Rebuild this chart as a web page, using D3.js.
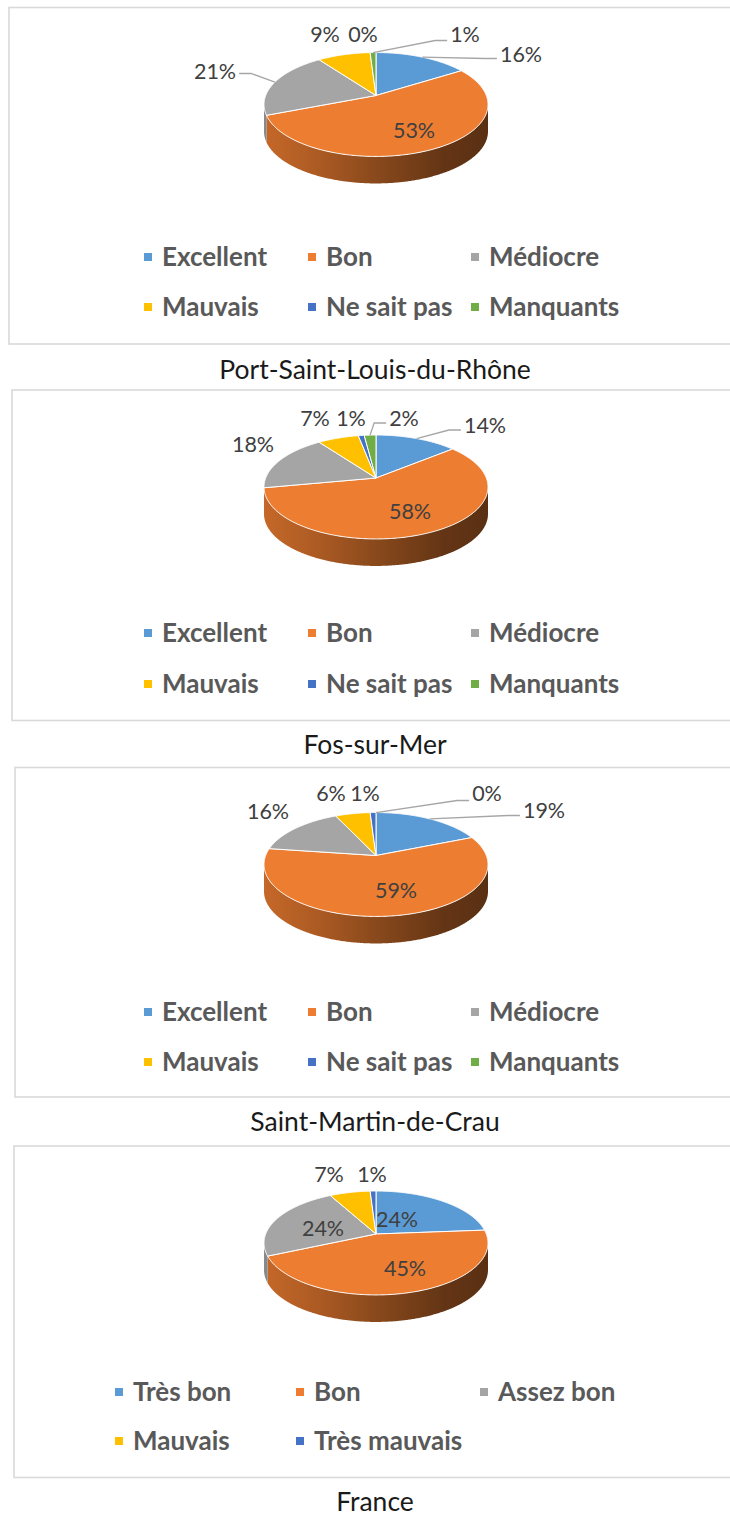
<!DOCTYPE html>
<html>
<head>
<meta charset="utf-8">
<script src="https://cdn.jsdelivr.net/npm/d3@7"></script>
<style>
  body { margin: 0; background: #fff; }
  svg { display: block; }
</style>
</head>
<body>
<svg id="chart" width="730" height="1517"></svg>
<script>
// ---- data ----
const sliceColors = ["#5b9bd5", "#ed7d31", "#a5a5a5", "#ffc000", "#4472c4", "#70ad47"];
const categoriesLocal = ["Excellent", "Bon", "Médiocre", "Mauvais", "Ne sait pas", "Manquants"];
const categoriesFrance = ["Très bon", "Bon", "Assez bon", "Mauvais", "Très mauvais"];
const valuesPortSaintLouis = [16, 53, 21, 9, 0, 1];
const valuesFos = [14, 58, 18, 7, 1, 2];
const valuesSaintMartin = [19, 59, 16, 6, 1, 0];
const valuesFrance = [24, 45, 24, 7, 1];
const panelTitles = ["Port-Saint-Louis-du-Rhône", "Fos-sur-Mer", "Saint-Martin-de-Crau", "France"];

// ---- layout ----
// label offsets are relative to the pie apex; leader: side of the label the line reaches, and its y offset
const panels = [
  { values: valuesPortSaintLouis, cats: categoriesLocal, title: panelTitles[0],
    left: 9, top: 7.5, bottom: 344, titleY: 370, legendY: [257, 307], legendX: [148, 312, 475],
    labels: [
      { dx: 145, dy: -41, leader: { side: "left", ly: 4 } },
      { dx: 38, dy: 35 },
      { dx: -161, dy: -24, leader: { side: "right", ly: 2 } },
      { dx: -51, dy: -61 },
      { dx: -13, dy: -61 },
      { dx: 89, dy: -61, leader: { side: "left", ly: 6 } }
    ] },
  { values: valuesFos, cats: categoriesLocal, title: panelTitles[1],
    left: 12, top: 390, bottom: 720.5, titleY: 745, legendY: [633, 684], legendX: [148, 312, 475],
    labels: [
      { dx: 109, dy: -53, leader: { side: "left", ly: 5 } },
      { dx: 34, dy: 33 },
      { dx: -123, dy: -34 },
      { dx: -61, dy: -60 },
      { dx: -25, dy: -60 },
      { dx: 28, dy: -60, leader: { side: "left", ly: 5 } }
    ] },
  { values: valuesSaintMartin, cats: categoriesLocal, title: panelTitles[2],
    left: 15, top: 767.5, bottom: 1097, titleY: 1122, legendY: [1012, 1062], legendX: [148, 312, 475],
    labels: [
      { dx: 168, dy: -45, leader: { side: "left", ly: 5 } },
      { dx: 20, dy: 35 },
      { dx: -108, dy: -44 },
      { dx: -45, dy: -62 },
      { dx: -11, dy: -62 },
      { dx: 111, dy: -62, leader: { side: "left", ly: 7 } }
    ] },
  { values: valuesFrance, cats: categoriesFrance, title: panelTitles[3],
    left: 14, top: 1146, bottom: 1477.5, titleY: 1502, legendY: [1392, 1441], legendX: [119, 300, 484],
    labels: [
      { dx: 21, dy: -15 },
      { dx: 29, dy: 34 },
      { dx: -53, dy: -6 },
      { dx: -47, dy: -60 },
      { dx: -4, dy: -60 }
    ] }
];

const FONT = "Lato, 'Open Sans', sans-serif";
const CAP = 0.7165;            // cap height ratio of the font
const labelSize = 21.5, legendSize = 26, titleSize = 26.5;

// ---- 3D pie projection ----
// a unit disc seen in perspective: far rim at the top, near rim at the bottom
const RX = 110.3, B = 0.173, KA = 50.4, DEPTH = 27;
const CX = 376;
function proj(cx, cy, phi, dz = 0) {
  const X = Math.sin(phi), Z = -Math.cos(phi);
  const w = 1 - B * Z;
  return [cx + RX * X / w, cy + KA * Z / w + dz];
}
function arcPoints(cx, cy, a0, a1, dz = 0) {
  const n = Math.max(2, Math.ceil(Math.abs(a1 - a0) / (Math.PI / 360)));
  const pts = [];
  for (let i = 0; i <= n; i++) pts.push(proj(cx, cy, a0 + (a1 - a0) * i / n, dz));
  return pts;
}
const PHI_R = Math.acos(-B), PHI_L = 2 * Math.PI - Math.acos(-B);
const halfW = RX / Math.sqrt(1 - B * B);

const svg = d3.select("#chart");
svg.append("rect").attr("width", 730).attr("height", 1517).attr("fill", "#fff");

// side wall shading: lit from the left, dark on the right
const defs = svg.append("defs");
sliceColors.forEach((c, i) => {
  const base = d3.rgb(c);
  const shade = k => d3.rgb(base.r * k, base.g * k, base.b * k).formatHex();
  const gr = defs.append("linearGradient").attr("id", "side-" + i)
    .attr("gradientUnits", "userSpaceOnUse")
    .attr("x1", CX - halfW).attr("x2", CX + halfW).attr("y1", 0).attr("y2", 0);
  [[0, 0.83], [0.25, 0.72], [0.5, 0.58], [0.8, 0.42], [1, 0.38]].forEach(([o, k]) =>
    gr.append("stop").attr("offset", o).attr("stop-color", shade(k)));
});

const line = d3.line();
const pie = d3.pie().sort(null).value(d => d);

panels.forEach(p => {
  const g = svg.append("g");
  g.append("rect")
    .attr("x", p.left).attr("y", p.top)
    .attr("width", 760).attr("height", p.bottom - p.top)
    .attr("fill", "#fff").attr("stroke", "#d9d9d9").attr("stroke-width", 1.6);

  const cx = CX, cy = p.top + 88;
  const arcs = pie(p.values);

  // side walls (front half only)
  arcs.forEach((a, i) => {
    const s = Math.max(a.startAngle, PHI_R), e = Math.min(a.endAngle, PHI_L);
    if (e <= s) return;
    const top = arcPoints(cx, cy, s, e);
    const bot = arcPoints(cx, cy, s, e, DEPTH).reverse();
    g.append("path").attr("d", line(top.concat(bot)) + "Z")
      .attr("fill", `url(#side-${i})`);
  });

  // top faces
  arcs.forEach((a, i) => {
    if (a.endAngle - a.startAngle <= 0) return;
    const pts = [[cx, cy]].concat(arcPoints(cx, cy, a.startAngle, a.endAngle));
    g.append("path").attr("d", line(pts) + "Z")
      .attr("fill", sliceColors[i])
      .attr("stroke", "#fff").attr("stroke-width", 1).attr("stroke-linejoin", "round");
  });

  // data labels with leader lines
  arcs.forEach((a, i) => {
    const L = p.labels[i];
    const lx = cx + L.dx, ly = cy + L.dy;
    const t = g.append("text")
      .attr("x", lx).attr("y", ly + CAP * labelSize / 2)
      .attr("text-anchor", "middle")
      .attr("font-family", FONT).attr("font-size", labelSize)
      .attr("fill", "#404040")
      .text(p.values[i] + "%");
    if (L.leader) {
      const w = t.node().getComputedTextLength();
      const mid = (a.startAngle + a.endAngle) / 2;
      const anchor = proj(cx, cy, mid);
      const dir = L.leader.side === "left" ? -1 : 1;
      const end = [lx + dir * (w / 2 + 3), ly + L.leader.ly];
      const elbow = [end[0] + dir * 12, end[1]];
      g.insert("path", "text").attr("d", line([anchor, elbow, end]))
        .attr("fill", "none").attr("stroke", "#a6a6a6").attr("stroke-width", 1.3);
    }
  });

  // legend
  p.cats.forEach((c, i) => {
    const x = p.legendX[i % 3], y = p.legendY[Math.floor(i / 3)];
    g.append("rect").attr("x", x - 4).attr("y", y - 4).attr("width", 8).attr("height", 8)
      .attr("fill", sliceColors[i]);
    g.append("text").attr("x", x + 14).attr("y", y + CAP * legendSize / 2)
      .attr("font-family", FONT).attr("font-size", legendSize).attr("font-weight", 700)
      .attr("fill", "#595959").text(c);
  });

  // title under the box
  svg.append("text").attr("x", 375).attr("y", p.titleY + CAP * titleSize / 2)
    .attr("text-anchor", "middle")
    .attr("font-family", FONT).attr("font-size", titleSize)
    .attr("fill", "#1a1a1a").text(p.title);
});
</script>
</body>
</html>
